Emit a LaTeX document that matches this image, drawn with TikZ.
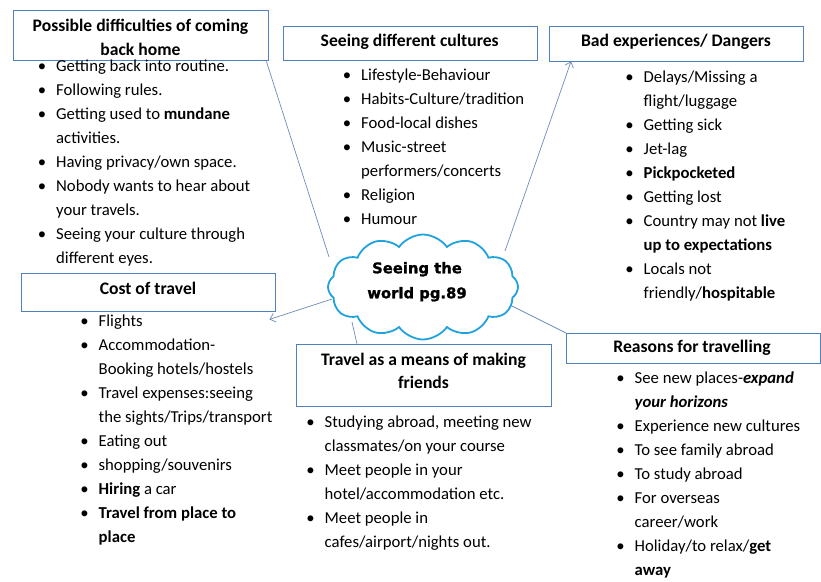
\documentclass[tikz,border=0pt]{standalone}
\usepackage{fontspec}
\setmainfont{Carlito}
\newfontfamily\cloudfont[BoldFeatures={FakeBold=1.2}]{DejaVu Sans}
\usetikzlibrary{shapes.symbols,arrows.meta,calc}
\definecolor{boxblue}{RGB}{79,129,189}
\definecolor{cloudblue}{RGB}{32,162,222}
\definecolor{linkblue}{RGB}{110,140,185}
\newcommand{\bul}{\llap{\textbullet\hspace{10pt}}}
\begin{document}
\begin{tikzpicture}[x=1pt,y=-1pt,
 hbox/.style={draw=boxblue, line width=1.4pt, fill=white, inner sep=0pt, anchor=north west},
 htext/.style={font=\fontsize{17.6}{23.3}\selectfont\bfseries, align=center, inner sep=0pt, anchor=base},
 blist/.style={font=\fontsize{16.7}{24}\selectfont, align=left, inner sep=0pt, anchor=base west},
 conn/.style={draw=linkblue, line width=0.7pt},
 tip/.style={-{Straight Barb[length=5pt,width=9pt]}}
]
\useasboundingbox[fill=white] (0,0) rectangle (821,581);

% header boxes
\node[hbox, minimum width=255pt, minimum height=50pt] (b1) at (13,10) {};
\node[hbox, minimum width=254pt, minimum height=34pt] (b2) at (283,26) {};
\node[hbox, minimum width=254pt, minimum height=35pt] (b3) at (549,26) {};
\node[hbox, minimum width=254pt, minimum height=38pt] (b4) at (21,273) {};
\node[hbox, minimum width=255pt, minimum height=62pt] (b5) at (296,344) {};
\node[hbox, minimum width=254pt, minimum height=30pt] (b6) at (566,333) {};

% connectors
\coordinate (c1) at (329,257);
\coordinate (c2) at (505,251);
\coordinate (c3) at (332,299);
\coordinate (c4) at (352,322);
\coordinate (c5) at (508,304);
\draw[conn] (c1) -- ($(b1.south east)+(-3,0)$);
\draw[conn,tip] (c2) -- ($(b3.south west)+(22,-1)$);
\draw[conn,tip] (c3) -- ($(b4.south east)+(-7,7)$);
\draw[conn] (c4) -- ($(b5.north west)+(61,0)$);
\draw[conn] (c5) -- (b6.north west);

% cloud
\node[cloud, cloud puffs=12, cloud puff arc=110, aspect=1.8, draw=cloudblue, line width=1.8pt, fill=white, minimum width=190pt, minimum height=105pt, inner sep=0pt] (cl) at (423,287) {};
\node[font=\cloudfont\bfseries\fontsize{14.8}{25}\selectfont, align=center, inner sep=0pt, anchor=base] (ct) at (417,298.3) {Seeing the\\world pg.89};

% header texts (anchor = baseline of last line)
\node[htext] (t1) at (140.5,55) {Possible difficulties of coming\\back home};
\node[htext] (t2) at (409.7,46.7) {Seeing different cultures};
\node[htext] (t3) at (676,46.7) {Bad experiences/ Dangers};
\node[htext] (t4) at (148,294.3) {Cost of travel};
\node[htext] (t5) at (423.5,388.3) {Travel as a means of making\\friends};
\node[htext] (t6) at (692,352.3) {Reasons for travelling};

% lists (anchor = baseline of last line)
\node[blist] (l1) at (56,263.5) {\bul Getting back into routine.\\
\bul Following rules.\\
\bul Getting used to \textbf{mundane}\\
activities.\\
\bul Having privacy/own space.\\
\bul Nobody wants to hear about\\
your travels.\\
\bul Seeing your culture through\\
different eyes.};

\node[blist] (l2) at (361,224.5) {\bul Lifestyle-Behaviour\\
\bul Habits-Culture/tradition\\
\bul Food-local dishes\\
\bul Music-street\\
performers/concerts\\
\bul Religion\\
\bul Humour};

\node[blist] (l3) at (643.5,298.5) {\bul Delays/Missing a\\
flight/luggage\\
\bul Getting sick\\
\bul Jet-lag\\
\bul \textbf{Pickpocketed}\\
\bul Getting lost\\
\bul Country may not \textbf{live}\\
\textbf{up to expectations}\\
\bul Locals not\\
friendly/\textbf{hospitable}};

\node[blist] (l4) at (98.5,542.5) {\bul Flights\\
\bul Accommodation-\\
Booking hotels/hostels\\
\bul Travel expenses:seeing\\
the sights/Trips/transport\\
\bul Eating out\\
\bul shopping/souvenirs\\
\bul \textbf{Hiring} a car\\
\bul \textbf{Travel from place to}\\
\textbf{place}};

\node[blist] (l5) at (324.5,547.5) {\bul Studying abroad, meeting new\\
classmates/on your course\\
\bul Meet people in your\\
hotel/accommodation etc.\\
\bul Meet people in\\
cafes/airport/nights out.};

\node[blist] (l6) at (634.5,575.5) {\bul See new places-\textbf{\textit{expand}}\\
\textbf{\textit{your horizons}}\\
\bul Experience new cultures\\
\bul To see family abroad\\
\bul To study abroad\\
\bul For overseas\\
career/work\\
\bul Holiday/to relax/\textbf{get}\\
\textbf{away}};
\end{tikzpicture}
\end{document}
